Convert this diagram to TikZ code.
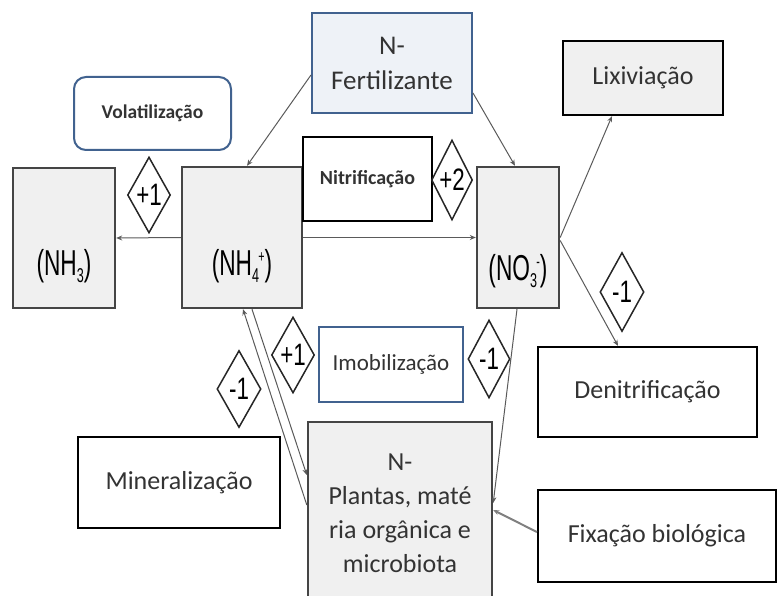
\documentclass[tikz,border=0pt]{standalone}
\usepackage{fontspec}
\setmainfont{Carlito}
\newfontfamily\arialf{Liberation Sans}
\usetikzlibrary{arrows.meta,calc,shapes.geometric}
\definecolor{txt}{HTML}{333333}
\definecolor{boxgray}{HTML}{F0F0F0}
\definecolor{bordgray}{HTML}{454545}
\definecolor{blueb}{HTML}{41628F}
\definecolor{fertfill}{HTML}{EEF2F7}
\definecolor{linec}{HTML}{5A5A5A}
\newcommand{\chem}[1]{\scalebox{0.63}[1]{\fontsize{36}{36}\arialf\selectfont #1}}
\newcommand{\csub}[1]{\raisebox{-7pt}{\fontsize{20}{20}\selectfont #1}}
\newcommand{\csup}[1]{\raisebox{13pt}{\fontsize{17}{17}\selectfont #1}}
\newcommand{\dnum}[1]{\scalebox{0.72}[1]{\fontsize{31}{31}\arialf\selectfont #1}}
\tikzset{
 base/.style={rectangle, inner sep=0pt, align=center, text=txt},
 graybox/.style={base, fill=boxgray, draw=bordgray, line width=2.4pt},
 blackbox/.style={base, fill=white, draw=black, line width=2.2pt, font=\fontsize{26}{32}\selectfont},
 bluebox/.style={base, fill=white, draw=blueb, line width=2pt},
 dia/.style={diamond, draw=black!85, line width=1.5pt, fill=white, inner sep=0pt},
 conn/.style={draw=linec, line width=1pt, -{Stealth[length=6pt,width=5pt]}},
}
\begin{document}
\begin{tikzpicture}[x=1pt,y=-1pt]
\useasboundingbox (0,0) rectangle (779,596);
\clip (0,0) rectangle (779,596);
% boxes
\node[graybox, minimum width=102, minimum height=140,
  label={[yshift=-28pt]center:\chem{(NH\csub{3})}}] (nh3) at (64,238) {};
\node[graybox, minimum width=120, minimum height=141,
  label={[yshift=-29pt]center:\chem{(NH\csub{4}\kern-1pt\csup{+})}}] (nh4) at (242,237.5) {};
\node[graybox, minimum width=82, minimum height=141,
  label={[yshift=-34pt]center:\chem{(NO\csub{3}\kern-1pt\csup{-})}}] (no3) at (518,237.5) {};
\node[blackbox, minimum width=129, minimum height=84, font=\bfseries\fontsize{20}{24}\selectfont] (nitr) at (367.5,179) {Nitrificação};
\node[bluebox, fill=fertfill, minimum width=160, minimum height=100, font=\fontsize{27}{35}\selectfont] (fert) at (392,63) {N-\\Fertilizante};
\node[bluebox, rounded corners=12pt, minimum width=157, minimum height=73, font=\bfseries\fontsize{19.5}{24}\selectfont] (vol) at (152.5,113.5) {Volatilização};
\node[blackbox, fill=boxgray, minimum width=160, minimum height=74] (lix) at (643,78) {Lixiviação};
\node[blackbox, minimum width=219, minimum height=90] (denit) at (647.5,392) {Denitrificação};
\node[blackbox, minimum width=238, minimum height=92] (fix) at (657,536) {Fixação biológica};
\node[graybox, minimum width=184, minimum height=182, font=\fontsize{26}{34}\selectfont] (plantas) at (400,513) {N-\\Plantas, maté\\ria orgânica e\\microbiota};
\node[bluebox, minimum width=144, minimum height=75, font=\fontsize{23}{28}\selectfont] (imob) at (391,364.5) {Imobilização};
\node[blackbox, minimum width=202, minimum height=91] (miner) at (179,482.5) {Mineralização};
% connectors
\draw[conn] (nh4.west) -- (nh3.east);
\draw[conn] (nh4.east) -- (no3.west);
\draw[conn] ($(fert.west)+(0,12)$) -- ($(nh4.north)+(5,0)$);
\draw[conn] ($(fert.east)+(0,30)$) -- ($(no3.north)+(-3,0)$);
\draw[conn] (no3.east) -- ($(lix.south)+(-31,0)$);
\draw[conn] ($(no3.east)+(0,3)$) -- ($(denit.north)+(-29.5,0)$);
\draw[conn] ($(no3.south)+(-1,0)$) -- ($(plantas.east)+(0,-10)$);
\draw[conn] ($(plantas.west)+(0,-8)$) -- ($(nh4.south)+(1,0)$);
\draw[conn] ($(nh4.south)+(10,0)$) -- ($(plantas.west)+(0,-38)$);
\draw[conn, draw=gray, line width=2pt] ($(fix.west)+(0,-4)$) -- ($(plantas.east)+(0,-3)$);
% diamonds
\node[dia, minimum width=43, minimum height=76, label={center:\dnum{+1}}] (d1) at (149,195) {};
\node[dia, minimum width=41, minimum height=80, label={center:\dnum{+2}}] (d2) at (452,180) {};
\node[dia, minimum width=44, minimum height=79, label={center:\dnum{-1}}] (d3) at (622,292) {};
\node[dia, minimum width=43, minimum height=76, label={center:\dnum{+1}}] (d4) at (293,355) {};
\node[dia, minimum width=42, minimum height=78, label={center:\dnum{-1}}] (d5) at (489,359) {};
\node[dia, minimum width=44, minimum height=77, label={center:\dnum{-1}}] (d6) at (239,389) {};
\end{tikzpicture}
\end{document}
